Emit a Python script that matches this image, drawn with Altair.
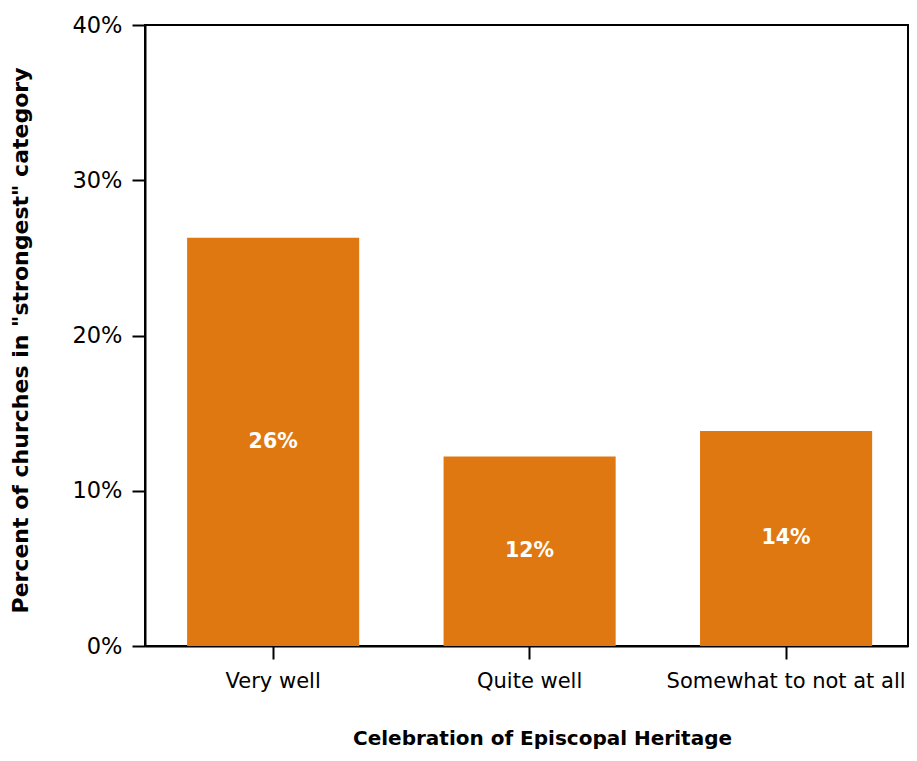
import altair as alt
import pandas as pd

categories = ["Very well", "Quite well", "Somewhat to not at all"]
values = [26.3, 12.2, 13.85]
labels = ["26%", "12%", "14%"]

df = pd.DataFrame({"cat": categories, "val": values, "label": labels})
df["mid"] = df["val"] / 2

FONT = "DejaVu Sans"

x_enc = alt.X(
    "cat:N",
    sort=categories,
    scale=alt.Scale(paddingInner=0.329, paddingOuter=0.152, align=0.54),
    axis=alt.Axis(
        title="Celebration of Episcopal Heritage",
        labelAngle=0,
        labelFont=FONT,
        labelFontSize=21,
        labelColor="black",
        labelBaseline="alphabetic",
        labelPadding=28,
        labelLimit=0,
        tickSize=13,
        tickWidth=2,
        tickColor="black",
        domainColor="black",
        domainWidth=2,
        titleFont=FONT,
        titleFontSize=20,
        titleFontWeight="bold",
        titleColor="black",
        titleX=397,
        titleY=98,
        titleAlign="center",
        titleBaseline="alphabetic",
    ),
)

bars = alt.Chart(df).mark_bar(color="#E07811").encode(
    x=x_enc,
    y=alt.Y(
        "val:Q",
        scale=alt.Scale(domain=[0, 40]),
        axis=alt.Axis(
            title='Percent of churches in "strongest" category',
            values=[0, 10, 20, 30, 40],
            labelExpr="datum.value + '%'",
            grid=False,
            labelFont=FONT,
            labelFontSize=22.5,
            labelColor="black",
            labelPadding=10,
            tickSize=13,
            tickWidth=2,
            tickColor="black",
            domainColor="black",
            domainWidth=2,
            titleFont=FONT,
            titleFontSize=22,
            titleFontWeight="bold",
            titleColor="black",
            titleX=-125,
            titleY=315,
            titleAngle=270,
            titleAlign="center",
            titleBaseline="middle",
        ),
    ),
)

text = alt.Chart(df).mark_text(
    color="white", font=FONT, fontSize=20.5, fontWeight="bold", baseline="middle"
).encode(
    x=alt.X("cat:N", sort=categories),
    y=alt.Y("mid:Q"),
    text="label:N",
)

chart = (
    alt.layer(bars, text)
    .properties(
        width=763,
        height=621,
        autosize=alt.AutoSizeParams(type="none"),
        padding={"left": 137, "top": 17, "right": 1, "bottom": 103},
    )
    .configure_view(stroke="black", strokeWidth=2)
)

chart.save("out.html", embed_options={"renderer": "svg", "actions": False})
